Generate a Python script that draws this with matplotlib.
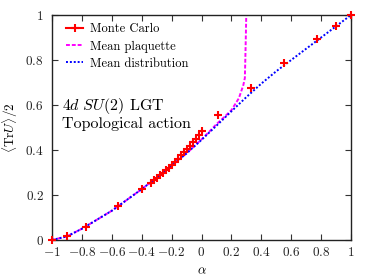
import matplotlib

matplotlib.use("Agg")
import matplotlib.pyplot as plt
from matplotlib.lines import Line2D
from matplotlib.ticker import FuncFormatter

plt.rcParams["font.family"] = "cmr10"
plt.rcParams["mathtext.fontset"] = "cm"
plt.rcParams["axes.formatter.use_mathtext"] = True

# Monte Carlo data points
mc_alpha = [-1.0, -0.9, -0.775, -0.56, -0.4,
            -0.34, -0.32, -0.30, -0.28, -0.26, -0.24, -0.22, -0.20, -0.18,
            -0.16, -0.14, -0.12, -0.10, -0.08, -0.06, -0.04, -0.02, 0.0,
            0.11, 0.33, 0.55, 0.77, 0.9, 1.0]
mc_tr = [0.0, 0.018, 0.058, 0.151, 0.226,
         0.255, 0.265, 0.275, 0.287, 0.298, 0.31, 0.322, 0.335, 0.348,
         0.362, 0.376, 0.39, 0.405, 0.42, 0.435, 0.45, 0.465, 0.483,
         0.554, 0.674, 0.786, 0.892, 0.953, 1.0]

# Mean distribution curve
md_alpha = [-1.0, -0.9, -0.8, -0.7, -0.6, -0.5, -0.4, -0.3, -0.2, -0.1, 0.0,
            0.1, 0.2, 0.3, 0.4, 0.5, 0.6, 0.7, 0.8, 0.9, 1.0]
md_tr = [0.0, 0.016, 0.05, 0.09, 0.13, 0.178, 0.226, 0.277, 0.33, 0.385, 0.445,
         0.508, 0.572, 0.635, 0.695, 0.75, 0.80, 0.85, 0.90, 0.95, 1.0]

# Mean plaquette curve
mp_alpha = [-1.0, -0.9, -0.8, -0.7, -0.6, -0.5, -0.4, -0.3, -0.2, -0.1, 0.0,
            0.05, 0.1, 0.15, 0.2, 0.25, 0.28, 0.29, 0.293, 0.297, 0.30]
mp_tr = [0.0, 0.016, 0.05, 0.09, 0.13, 0.178, 0.226, 0.277, 0.33, 0.385, 0.447,
         0.48, 0.515, 0.545, 0.577, 0.63, 0.689, 0.72, 0.80, 0.92, 1.02]

x_ticks = [-1, -0.8, -0.6, -0.4, -0.2, 0, 0.2, 0.4, 0.6, 0.8, 1]
y_ticks = [0, 0.2, 0.4, 0.6, 0.8, 1]

fig = plt.figure(figsize=(3.74, 2.80), dpi=100)
ax = fig.add_axes([52 / 374, 40 / 280, 299 / 374, 225 / 280])

ax.plot(mp_alpha, mp_tr, color="#ff00ff", lw=1.4, dashes=(2, 1))
ax.plot(md_alpha, md_tr, color="#0000ff", lw=1.4, dashes=(1, 1))
ax.plot(mc_alpha, mc_tr, ls="none", marker="+", ms=6, mew=1.5,
        color="#ff0000", clip_on=False, zorder=5)

ax.set_xlim(-1, 1)
ax.set_ylim(0, 1)
ax.set_xticks(x_ticks)
ax.set_yticks(y_ticks)
fmt = FuncFormatter(lambda v, pos: f"${v:g}$")
ax.xaxis.set_major_formatter(fmt)
ax.yaxis.set_major_formatter(fmt)
ax.tick_params(direction="in", length=4, width=0.8, top=True, right=True,
               labelsize=9.5, colors="#333333", labelcolor="#222222")
ax.tick_params(axis="x", pad=4)
ax.tick_params(axis="y", pad=6)
for s in ax.spines.values():
    s.set_linewidth(1.0)
    s.set_color("#222222")

ax.set_xlabel(r"$\alpha$", fontsize=9.5, labelpad=5)
ax.set_ylabel(r"$\langle \mathrm{Tr} U\rangle/2$", fontsize=9.5, labelpad=4)

ax.text(0.035, 0.578, r"$4d\ SU(2)$ LGT", transform=ax.transAxes, fontsize=11.5,
        va="baseline")
ax.text(0.035, 0.498, "Topological action", transform=ax.transAxes,
        fontsize=11.5, va="baseline")

handles = [
    Line2D([], [], color="#ff0000", lw=1.5, marker="+", ms=6, mew=1.5),
    Line2D([], [], color="#ff00ff", lw=1.4, dashes=(2, 1)),
    Line2D([], [], color="#0000ff", lw=1.4, dashes=(1, 1)),
]
ax.legend(handles, ["Monte Carlo", "Mean plaquette", "Mean distribution"],
          loc="upper left", frameon=False, fontsize=9, handlelength=1.4,
          handletextpad=0.5, labelspacing=0.4, borderaxespad=0.2,
          borderpad=0.2, bbox_to_anchor=(0.03, 0.985))

fig.savefig("out.png", dpi=100)
